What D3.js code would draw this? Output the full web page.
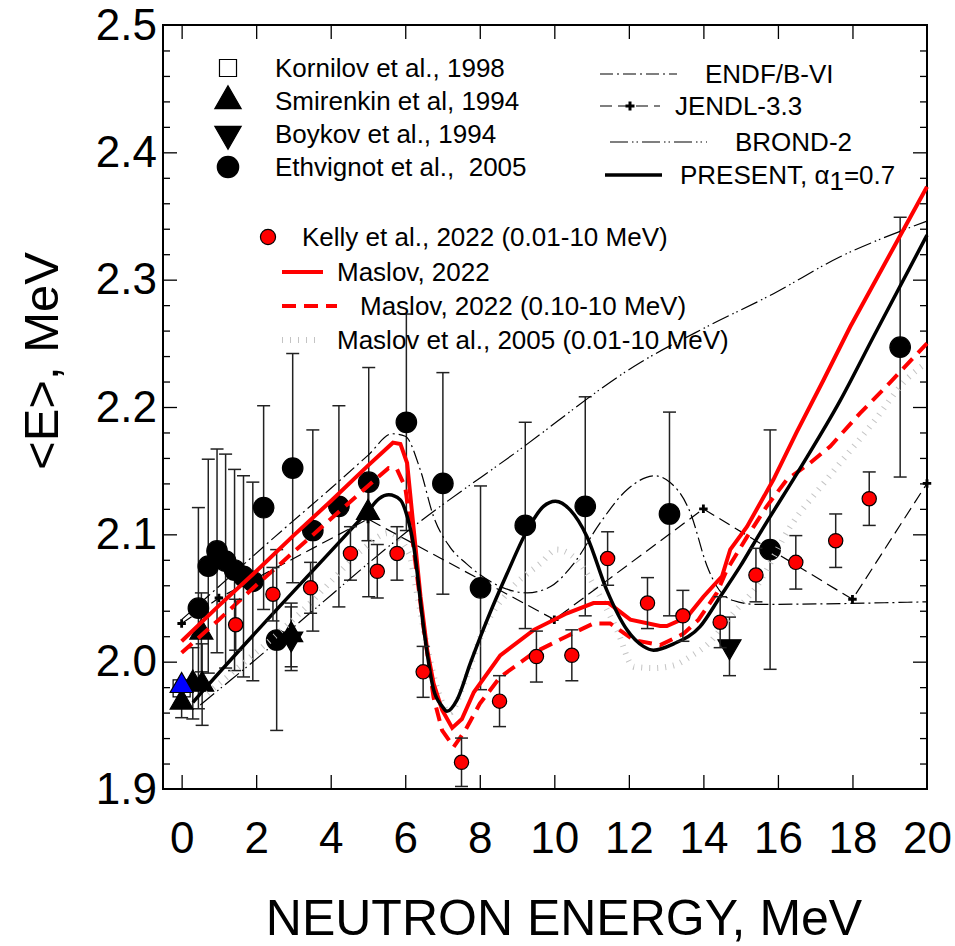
<!DOCTYPE html>
<html>
<head>
<meta charset="utf-8">
<script src="https://cdn.jsdelivr.net/npm/d3@7"></script>
<style>
  body { margin: 0; background: #fff; }
  svg text { font-family: "Liberation Sans", Arial, sans-serif; fill: #000; }
</style>
</head>
<body>
<svg id="chart" width="955" height="946"></svg>
<script>
// ---- tick labels ----
var xTickLabels = [0, 2, 4, 6, 8, 10, 12, 14, 16, 18, 20];
var yTickLabels = [1.9, 2.0, 2.1, 2.2, 2.3, 2.4, 2.5];

// ---- experimental points: [E, <E>, error] ----
var kornilov = [[0.0, 1.979]];
var thermal = [[0.0, 1.981]]; // blue triangle, no legend entry
var smirenkin = [[0.0, 1.968, 0.012], [0.3, 1.983, 0.028], [0.55, 1.982, 0.032],
                 [0.53, 2.023, 0.031], [2.94, 2.021, 0.025], [5.0, 2.117, 0.022]];
var boykov = [[2.94, 2.018, 0.025], [14.7, 2.012, 0.023]];
var ethvignot = [[0.45, 2.042, 0.079], [0.715, 2.075, 0.084], [0.95, 2.087, 0.080],
                 [1.18, 2.079, 0.084], [1.42, 2.072, 0.079], [1.66, 2.067, 0.079],
                 [1.91, 2.063, 0.078], [2.2, 2.121, 0.080], [2.55, 2.017, 0.071],
                 [2.98, 2.152, 0.090], [3.52, 2.103, 0.079], [4.22, 2.122, 0.079],
                 [5.02, 2.141, 0.090], [6.03, 2.188, 0.085], [7.01, 2.140, 0.087],
                 [8.02, 2.058, 0.080], [9.22, 2.107, 0.081], [10.83, 2.122, 0.086],
                 [13.09, 2.116, 0.080], [15.79, 2.088, 0.094], [19.28, 2.247, 0.102]];
var kelly = [[1.45, 2.029, 0.020], [2.45, 2.053, 0.021], [3.46, 2.058, 0.020],
             [4.53, 2.085, 0.021], [5.25, 2.071, 0.021], [5.78, 2.085, 0.021],
             [6.48, 1.992, 0.020], [7.51, 1.921, 0.019], [8.53, 1.969, 0.020],
             [9.52, 2.004, 0.020], [10.47, 2.005, 0.020], [11.43, 2.081, 0.021],
             [12.5, 2.046, 0.020], [13.45, 2.036, 0.020], [14.45, 2.031, 0.020],
             [15.41, 2.068, 0.021], [16.48, 2.078, 0.021], [17.55, 2.095, 0.021],
             [18.45, 2.128, 0.021]];

// ---- evaluated / calculated curves: [E, <E>] ----
var endf = [[0, 2.033], [0.73, 2.052], [2.5, 2.098], [4.0, 2.136], [5.0, 2.162],
            [5.65, 2.179], [6.0, 2.177], [6.4, 2.151], [6.76, 2.114], [7.2, 2.090],
            [7.64, 2.077], [8.55, 2.059], [9.27, 2.054], [9.9, 2.059], [10.52, 2.077],
            [11.23, 2.109], [11.95, 2.135], [12.7, 2.146], [13.0, 2.143], [13.65, 2.117],
            [14.1, 2.075], [14.36, 2.059], [14.8, 2.048], [15.43, 2.045], [20, 2.047]];
var jendl = [[0, 2.030], [1, 2.050], [5, 2.112], [10, 2.033], [14, 2.120], [18, 2.049], [20, 2.140]];
var brond = [[0.5, 1.966], [1, 1.978], [2, 2.002], [3, 2.027], [4, 2.052], [5, 2.077],
             [6, 2.101], [9, 2.165], [12.31, 2.235], [14.09, 2.263], [15.88, 2.289],
             [17.67, 2.318], [19.46, 2.340], [20, 2.346]];
var present = [[0.3, 1.968], [0.6, 1.978], [5.02, 2.119], [5.3, 2.128], [5.56, 2.131],
               [5.87, 2.127], [6.0, 2.119], [6.23, 2.090], [6.5, 2.025], [6.76, 1.978],
               [6.99, 1.965], [7.12, 1.961], [7.39, 1.970], [7.75, 1.999], [8.2, 2.033],
               [8.73, 2.069], [9.27, 2.103], [9.71, 2.122], [10.03, 2.126], [10.43, 2.119],
               [10.88, 2.098], [11.41, 2.056], [11.95, 2.025], [12.39, 2.012], [12.66, 2.009],
               [13.2, 2.014], [13.91, 2.0275], [14.45, 2.051], [14.99, 2.075], [15.52, 2.101],
               [16.6, 2.152], [17.67, 2.205], [18.56, 2.255], [20, 2.335]];
var maslov2022 = [[0, 2.016], [1, 2.044], [2, 2.071], [3, 2.099], [4, 2.126], [5, 2.154],
                  [5.67, 2.172], [5.87, 2.171], [6.05, 2.156], [6.23, 2.103], [6.41, 2.051],
                  [6.59, 2.009], [6.76, 1.983], [6.99, 1.962], [7.26, 1.948], [7.52, 1.955],
                  [7.84, 1.976], [8.55, 2.005], [9.45, 2.025], [10.34, 2.038], [11.05, 2.046],
                  [11.46, 2.046], [12.04, 2.033], [12.84, 2.028], [13.02, 2.028], [13.56, 2.035],
                  [14.0, 2.051], [14.5, 2.067], [14.72, 2.088], [15.17, 2.106], [15.88, 2.143],
                  [16.5, 2.180], [17.22, 2.221], [17.94, 2.263], [20, 2.373]];
var maslov2022b = [[0, 2.007], [1, 2.033], [2, 2.060], [3, 2.086], [4, 2.112], [5, 2.138],
                   [5.55, 2.152], [5.78, 2.151], [6.0, 2.137], [6.22, 2.090], [6.5, 2.025],
                   [6.76, 1.972], [6.99, 1.946], [7.3, 1.933], [7.61, 1.946], [8.0, 1.967],
                   [8.55, 1.988], [9.45, 2.007], [10.34, 2.020], [11.05, 2.030], [11.5, 2.030],
                   [12.13, 2.017], [12.84, 2.013], [13.47, 2.022], [13.87, 2.033], [14.36, 2.054],
                   [14.63, 2.072], [15.17, 2.098], [15.7, 2.122], [16.24, 2.143], [16.86, 2.156],
                   [17.4, 2.169], [18.2, 2.195], [19.0, 2.219], [20, 2.250]];
var maslov2005 = [[0.7, 1.975], [1.5, 1.995], [2.5, 2.020], [3.24, 2.040], [4.04, 2.064],
                  [4.85, 2.088], [5.56, 2.101], [6.1, 2.085], [6.3, 2.056], [6.6, 2.010],
                  [6.9, 1.975], [7.2, 1.960], [7.6, 1.985], [8.1, 2.025], [8.8, 2.056],
                  [9.62, 2.077], [10.07, 2.088], [10.6, 2.080], [11.23, 2.051], [11.68, 2.025],
                  [12.13, 1.996], [12.66, 1.995], [13.2, 1.997], [13.65, 2.004], [14.09, 2.013],
                  [14.8, 2.038], [15.43, 2.059], [16.33, 2.106], [17.31, 2.143], [18.56, 2.188],
                  [19.46, 2.222], [20, 2.235]];

// ---- legend texts ----
var legendPoints = ["Kornilov et al., 1998", "Smirenkin et al, 1994", "Boykov et al., 1994", "Ethvignot et al.,\u00a0 2005"];
var legendEval = ["ENDF/B-VI", "JENDL-3.3", "BROND-2", "PRESENT, "];
var legendMaslov = ["Kelly et al., 2022 (0.01-10 MeV)", "Maslov, 2022", "Maslov, 2022 (0.10-10 MeV)", "Maslov et al., 2005 (0.01-10 MeV)"];

// Chart setup
var svg = d3.select("#chart"),
    margin = {top: 25, left: 163, bottom: 157, right: 28},
    width = +svg.attr("width"),
    height = +svg.attr("height");

var x = d3.scaleLinear().domain([-0.5, 20]).range([margin.left, width - margin.right]);
var y = d3.scaleLinear().domain([1.9, 2.5]).range([height - margin.bottom, margin.top]);

var line = d3.line().x(d => x(d[0])).y(d => y(d[1]));
var smooth = d3.line().curve(d3.curveMonotoneX).x(d => x(d[0])).y(d => y(d[1]));

// Inward tick marks on all four sides
var xMarks = xTickLabels.slice(0, -1);
var yMinor = d3.range(1.92, 2.499, 0.02).filter(v => Math.abs(v * 10 - Math.round(v * 10)) > 0.01);
var yMajor = yTickLabels.slice(1, -1);

function ticks(axis, tx, ty) {
    svg.append("g")
        .attr("transform", `translate(${tx},${ty})`)
        .call(axis.tickSizeOuter(0).tickFormat(""))
        .call(g => g.select(".domain").remove())
        .selectAll("line").attr("stroke", "#000").attr("stroke-width", 1.3);
}
ticks(d3.axisBottom(x).tickValues(xMarks).tickSize(-14), 0, y.range()[0]);
ticks(d3.axisTop(x).tickValues(xMarks).tickSize(-14), 0, y.range()[1]);
ticks(d3.axisLeft(y).tickValues(yMinor).tickSize(-7), x.range()[0], 0);
ticks(d3.axisLeft(y).tickValues(yMajor).tickSize(-14), x.range()[0], 0);
ticks(d3.axisRight(y).tickValues(yMinor).tickSize(-7), x.range()[1], 0);
ticks(d3.axisRight(y).tickValues(yMajor).tickSize(-14), x.range()[1], 0);

// Frame
svg.append("rect")
    .attr("x", x.range()[0]).attr("y", y.range()[1])
    .attr("width", x.range()[1] - x.range()[0])
    .attr("height", y.range()[0] - y.range()[1])
    .attr("fill", "none").attr("stroke", "#000").attr("stroke-width", 2);

// Tick labels
svg.append("g")
    .attr("transform", `translate(0,${y.range()[0]})`)
    .call(d3.axisBottom(x).tickValues(xTickLabels).tickSize(0).tickPadding(33).tickFormat(d3.format("d")))
    .call(g => g.select(".domain").remove())
    .attr("font-size", 44).attr("font-family", null);

svg.append("g")
    .attr("transform", `translate(${x.range()[0]},0)`)
    .call(d3.axisLeft(y).tickValues(yTickLabels).tickSize(0).tickPadding(6).tickFormat(d3.format(".1f")))
    .call(g => g.select(".domain").remove())
    .attr("font-size", 44).attr("font-family", null);

// Axis titles
svg.append("text")
    .attr("x", 564).attr("y", 935)
    .attr("font-size", 50)
    .style("text-anchor", "middle")
    .text("NEUTRON ENERGY, MeV");

svg.append("text")
    .attr("transform", "rotate(-90) translate(-361,58)")
    .attr("font-size", 49)
    .style("text-anchor", "middle")
    .text("<E>, MeV");

// Error bars
function errorBars(data, cap) {
    var g = svg.append("g").attr("stroke", "#222").attr("stroke-width", 1.5);
    g.selectAll("line.v").data(data).enter().append("line")
        .attr("x1", d => x(d[0])).attr("x2", d => x(d[0]))
        .attr("y1", d => y(d[1] - d[2])).attr("y2", d => y(d[1] + d[2]));
    [1, -1].forEach(function (s) {
        g.selectAll(null).data(data).enter().append("line")
            .attr("x1", d => x(d[0]) - cap / 2).attr("x2", d => x(d[0]) + cap / 2)
            .attr("y1", d => y(d[1] + s * d[2])).attr("y2", d => y(d[1] + s * d[2]));
    });
}

function markers(data, type, size, fill, stroke, rotate) {
    svg.append("g").selectAll("path").data(data).enter().append("path")
        .attr("d", d3.symbol().type(type).size(size))
        .attr("transform", d => `translate(${x(d[0])},${y(d[1])})` + (rotate ? " rotate(180)" : ""))
        .attr("fill", fill)
        .attr("stroke", stroke).attr("stroke-width", 1.2);
}

errorBars(ethvignot, 13);
errorBars(smirenkin, 13);
errorBars(boykov, 13);

markers(kornilov, d3.symbolSquare, 290, "#fff", "#000");
markers(ethvignot, d3.symbolCircle, 330, "#000", "#000");
markers(smirenkin, d3.symbolTriangle, 230, "#000", "#000");
markers(boykov, d3.symbolTriangle, 230, "#000", "#000", true);
markers(thermal, d3.symbolTriangle, 230, "#0000ff", "#000");

// Curves
function curve(data, gen, color, w, dash) {
    svg.append("path")
        .datum(data)
        .attr("d", gen)
        .attr("fill", "none")
        .attr("stroke", color)
        .attr("stroke-width", w)
        .attr("stroke-dasharray", dash);
}

curve(maslov2005, smooth, "#c4c4c4", 6, "1 7");
curve(endf, smooth, "#000", 1.2, "14 4 2 4");
curve(brond, smooth, "#000", 1.2, "18 4 1.5 3 1.5 4");
curve(jendl, line, "#000", 1.2, "12 6");

// JENDL node crosses
svg.append("g").selectAll("path").data(jendl).enter().append("path")
    .attr("d", d3.symbol().type(d3.symbolCross).size(40))
    .attr("transform", d => `translate(${x(d[0])},${y(d[1])})`)
    .attr("fill", "#000");

curve(maslov2022b, line, "#ff0000", 4, "14 8");
curve(maslov2022, line, "#ff0000", 4, null);
curve(present, smooth, "#000", 3.5, null);

errorBars(kelly, 13);
markers(kelly, d3.symbolCircle, 160, "#ff0000", "#000");

// ---- Legends ----
// Experimental points (top left)
var legRows = [68, 101, 134, 167];
var legTypes = [d3.symbolSquare, d3.symbolTriangle, d3.symbolTriangle, d3.symbolCircle];
var legFill = ["#fff", "#000", "#000", "#000"];
var legSize = [290, 300, 300, 360];
legendPoints.forEach(function (t, i) {
    svg.append("path")
        .attr("d", d3.symbol().type(legTypes[i]).size(legSize[i]))
        .attr("transform", `translate(228,${legRows[i]})` + (i == 2 ? " rotate(180)" : ""))
        .attr("fill", legFill[i]).attr("stroke", "#000").attr("stroke-width", 1.2);
    svg.append("text")
        .attr("x", 275).attr("y", legRows[i] + 9)
        .attr("font-size", 26)
        .text(t);
});

// Evaluations (top right)
var evalRows = [74, 106, 142, 175];
var evalLine = [[600, 677], [600, 660], [610, 707], [605, 662]];
var evalText = [705, 675, 735, 680];
var evalDash = ["13 4 2 4", "12 6", "18 4 1.5 3 1.5 4", null];
var evalWidth = [1.2, 1.2, 1.2, 3.5];
legendEval.forEach(function (t, i) {
    svg.append("line")
        .attr("x1", evalLine[i][0]).attr("x2", evalLine[i][1])
        .attr("y1", evalRows[i]).attr("y2", evalRows[i])
        .attr("stroke", "#000").attr("stroke-width", evalWidth[i])
        .attr("stroke-dasharray", evalDash[i]);
    var txt = svg.append("text")
        .attr("x", evalText[i]).attr("y", evalRows[i] + 9)
        .attr("font-size", 26)
        .text(t);
    if (i == 3) {
        txt.append("tspan").text("\u03b1");
        txt.append("tspan").attr("dy", 6).text("1");
        txt.append("tspan").attr("dy", -6).text("=0.7");
    }
});
svg.append("path")
    .attr("d", d3.symbol().type(d3.symbolCross).size(45))
    .attr("transform", `translate(630,${evalRows[1]})`)
    .attr("fill", "#000");

// Kelly / Maslov (middle)
var mRows = [237, 272, 306, 340];
var mText = [302, 337, 360, 337];
svg.append("path")
    .attr("d", d3.symbol().type(d3.symbolCircle).size(180))
    .attr("transform", `translate(268,${mRows[0]})`)
    .attr("fill", "#ff0000").attr("stroke", "#000").attr("stroke-width", 1.2);
var mLines = [null, [282, 323, "#ff0000", 4, null], [282, 337, "#ff0000", 4, "14 8"], [282, 320, "#c4c4c4", 6, "1 7"]];
legendMaslov.forEach(function (t, i) {
    var l = mLines[i];
    if (l) {
        svg.append("line")
            .attr("x1", l[0]).attr("x2", l[1])
            .attr("y1", mRows[i]).attr("y2", mRows[i])
            .attr("stroke", l[2]).attr("stroke-width", l[3])
            .attr("stroke-dasharray", l[4]);
    }
    svg.append("text")
        .attr("x", mText[i]).attr("y", mRows[i] + 9)
        .attr("font-size", 26)
        .text(t);
});
</script>
</body>
</html>
